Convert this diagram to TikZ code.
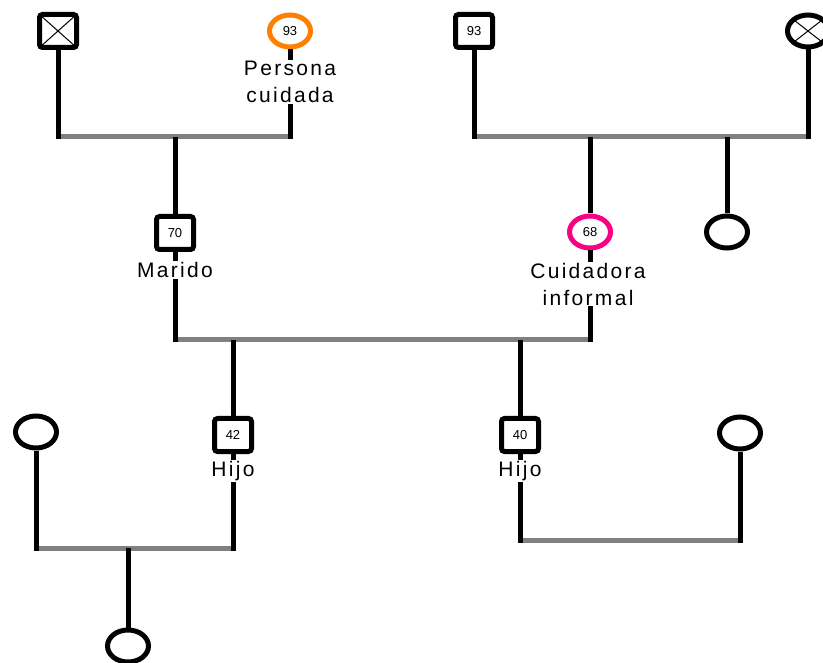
\documentclass[tikz,border=0pt]{standalone}
\usepackage{fontspec}
\setmainfont{Liberation Sans}
\newfontfamily\labfont{Liberation Sans}[LetterSpace=11]
\usetikzlibrary{shapes.geometric}
\definecolor{lineg}{RGB}{128,128,128}
\definecolor{pcorange}{RGB}{255,128,0}
\definecolor{cuidpink}{RGB}{250,0,130}
\begin{document}
\begin{tikzpicture}[x=1pt,y=-1pt,
  male/.style={draw, line width=5pt, rounded corners=3pt, minimum width=37pt, minimum height=33pt, inner sep=0pt, fill=white, font=\fontsize{13}{13}\selectfont},
  female/.style={draw, ellipse, line width=5pt, minimum width=41pt, minimum height=32pt, inner sep=0pt, fill=white, font=\fontsize{13}{13}\selectfont},
  crossed/.style={path picture={\draw[line width=1pt] (path picture bounding box.north west) -- (path picture bounding box.south east) (path picture bounding box.north east) -- (path picture bounding box.south west);}},
  link/.style={line width=5pt},
  couple/.style={line width=5pt, draw=lineg},
  lab/.style={fill=white, inner sep=1pt, align=center, font=\labfont\fontsize{21}{27}\selectfont}
]
\useasboundingbox (0,0) rectangle (823,663);
% persons
\node[male, crossed] (gf1) at (58,31) {};
\node[female, draw=pcorange] (pc) at (290,31) {93};
\node[male] (gf2) at (474,31) {93};
\node[female, crossed] (gm2) at (808,31) {};
\node[male] (marido) at (175,233) {70};
\node[female, draw=cuidpink] (cuid) at (590,232) {68};
\node[female] (aunt) at (727,232) {};
\node[male] (son1) at (233,435) {42};
\node[male] (son2) at (520,435) {40};
\node[female] (wife1) at (36,432) {};
\node[female] (wife2) at (740,433) {};
\node[female] (grand) at (128,646) {};
% couple coordinates
\coordinate (c1a) at (58,137);
\coordinate (c1b) at (290,137);
\coordinate (c1d) at (175,137);
\coordinate (c2a) at (474,137);
\coordinate (c2b) at (808,137);
\coordinate (c2d) at (590,137);
\coordinate (c2e) at (727,137);
\coordinate (c3a) at (175,340);
\coordinate (c3b) at (590,340);
\coordinate (c3d) at (233,340);
\coordinate (c3e) at (520,340);
\coordinate (c4a) at (36,548);
\coordinate (c4b) at (233,548);
\coordinate (c4d) at (128,548);
\coordinate (c5a) at (520,540);
\coordinate (c5b) at (740,540);
% couple lines
\draw[couple] (c1a) -- (c1b);
\draw[couple] (c2a) -- (c2b);
\draw[couple] (c3a) -- (c3b);
\draw[couple] (c4a) -- (c4b);
\draw[couple] (c5a) -- (c5b);
% partner links
\draw[link] (gf1.south) -- ([yshift=-2.5pt]c1a);
\draw[link] (pc.south) -- ([yshift=-2.5pt]c1b);
\draw[link] (gf2.south) -- ([yshift=-2.5pt]c2a);
\draw[link] (gm2.south) -- ([yshift=-2.5pt]c2b);
\draw[link] (marido.south) -- ([yshift=-2.5pt]c3a);
\draw[link] (cuid.south) -- ([yshift=-2.5pt]c3b);
\draw[link] (wife1.south) -- ([yshift=-2.5pt]c4a);
\draw[link] (son1.south) -- ([yshift=-2.5pt]c4b);
\draw[link] (son2.south) -- ([yshift=-2.5pt]c5a);
\draw[link] (wife2.south) -- ([yshift=-2.5pt]c5b);
% descent links
\draw[link] (c1d) -- (marido.north);
\draw[link] (c2d) -- (cuid.north);
\draw[link] (c2e) -- (aunt.north);
\draw[link] (c3d) -- (son1.north);
\draw[link] (c3e) -- (son2.north);
\draw[link] (c4d) -- (grand.north);
% labels
\node[lab] (lpc) at (290,82) {Persona\\cuidada};
\node[lab] (lmar) at (175,270) {Marido};
\node[lab] (lcuid) at (588,284) {Cuidadora\\informal};
\node[lab] (lson1) at (233,471) {Hijo};
\node[lab] (lson2) at (520,471) {Hijo};
\end{tikzpicture}
\end{document}
